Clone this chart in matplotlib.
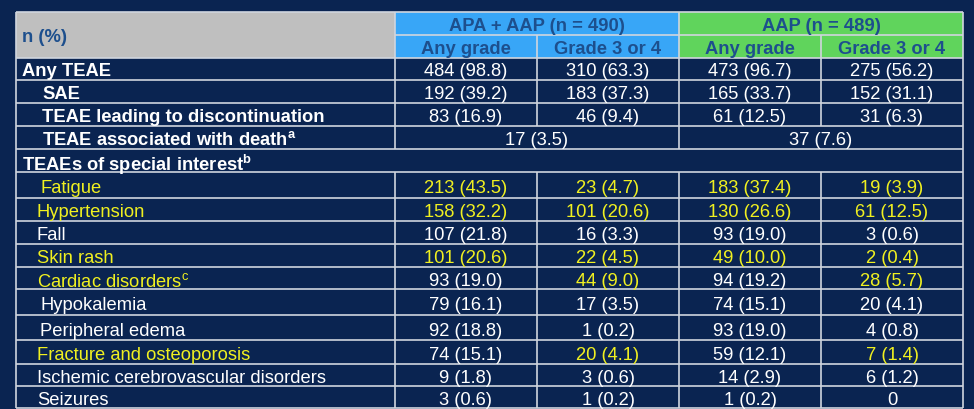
import matplotlib
matplotlib.use("Agg")
import matplotlib.pyplot as plt
from matplotlib.patches import Rectangle

plt.rcParams["mathtext.fontset"] = "custom"
plt.rcParams["mathtext.rm"] = "Liberation Sans"
plt.rcParams["mathtext.bf"] = "Liberation Sans:bold"
plt.rcParams["mathtext.it"] = "Liberation Sans:italic"

# ---- data ----
group_labels = ["APA + AAP (n = 490)", "AAP (n = 489)"]
sub_labels = ["Any grade", "Grade 3 or 4", "Any grade", "Grade 3 or 4"]
corner_label = "n (%)"

top_labels = ["Any TEAE", "SAE", "TEAE leading to discontinuation",
              "TEAE associated with death$^{\\mathbf{a}}$"]
top_indent = [0, 1, 1, 1]
top_values = [
    ["484 (98.8)", "310 (63.3)", "473 (96.7)", "275 (56.2)"],
    ["192 (39.2)", "183 (37.3)", "165 (33.7)", "152 (31.1)"],
    ["83 (16.9)", "46 (9.4)", "61 (12.5)", "31 (6.3)"],
]
death_values = ["17 (3.5)", "37 (7.6)"]

section_label = "TEAEs of special interest$^{\\mathbf{b}}$"

aesi_labels = ["Fatigue", "Hypertension", "Fall", "Skin rash",
               "Cardiac disorders$^{\\mathrm{c}}$", "Hypokalemia", "Peripheral edema",
               "Fracture and osteoporosis", "Ischemic cerebrovascular disorders",
               "Seizures"]
aesi_apa_any = ["213 (43.5)", "158 (32.2)", "107 (21.8)", "101 (20.6)", "93 (19.0)",
                "79 (16.1)", "92 (18.8)", "74 (15.1)", "9 (1.8)", "3 (0.6)"]
aesi_apa_g34 = ["23 (4.7)", "101 (20.6)", "16 (3.3)", "22 (4.5)", "44 (9.0)",
                "17 (3.5)", "1 (0.2)", "20 (4.1)", "3 (0.6)", "1 (0.2)"]
aesi_aap_any = ["183 (37.4)", "130 (26.6)", "93 (19.0)", "49 (10.0)", "94 (19.2)",
                "74 (15.1)", "93 (19.0)", "59 (12.1)", "14 (2.9)", "1 (0.2)"]
aesi_aap_g34 = ["19 (3.9)", "61 (12.5)", "3 (0.6)", "2 (0.4)", "28 (5.7)",
                "20 (4.1)", "4 (0.8)", "7 (1.4)", "6 (1.2)", "0"]
# highlight flags: label, apa_any, apa_g34, aap_any, aap_g34
aesi_highlight = [
    [1, 1, 1, 1, 1],
    [1, 1, 1, 1, 1],
    [0, 0, 0, 0, 0],
    [1, 1, 1, 1, 1],
    [1, 0, 1, 0, 1],
    [0, 0, 0, 0, 0],
    [0, 0, 0, 0, 0],
    [1, 0, 1, 0, 1],
    [0, 0, 0, 0, 0],
    [0, 0, 0, 0, 0],
]
aesi_indent = [3, 0, 0, 0, 0, 3, 3, 0, 0, 0]

# ---- style ----
BG = "#0a2451"
GRAY = "#bfbfbf"
BLUE = "#38a6f7"
GREEN = "#60d45c"
HDR_TXT = "#1d4f8d"
WHITE = "#ffffff"
YELLOW = "#f0f020"
LINE = "#d0d5de"
FONT = "Liberation Sans"
FS = 13.2

W, H = 974, 410
fig = plt.figure(figsize=(W / 100, H / 100), dpi=100)
fig.patch.set_facecolor(BG)
ax = fig.add_axes([0, 0, 1, 1])
ax.set_xlim(0, W)
ax.set_ylim(H, 0)
ax.axis("off")
ax.set_facecolor(BG)

xe = [16, 394.5, 537, 679, 821, 963]
ye = [13, 35.5, 59, 81, 104, 127, 150, 173, 198.5, 221.5, 244.5, 267.5, 290,
      315.5, 341, 365, 387, 408.5]

def rect(x0, y0, x1, y1, color):
    ax.add_patch(Rectangle((x0, y0), x1 - x0, y1 - y0, facecolor=color,
                           edgecolor="none", zorder=1))

def hline(y, x0, x1):
    ax.plot([x0, x1], [y, y], color=LINE, lw=1.2, zorder=3, solid_capstyle="butt")

def vline(x, y0, y1):
    ax.plot([x, x], [y0, y1], color=LINE, lw=1.2, zorder=3, solid_capstyle="butt")

def txt(x, y, s, color=WHITE, bold=False, ha="center"):
    ax.text(x, y, s, color=color, fontsize=FS, family=FONT,
            fontweight="bold" if bold else "normal", ha=ha, va="center_baseline",
            zorder=4)

# header fills
rect(xe[0], ye[0], xe[1], ye[2], GRAY)
rect(xe[1], ye[0], xe[3], ye[2], BLUE)
rect(xe[3], ye[0], xe[5], ye[2], GREEN)

txt(22, (ye[0] + ye[2]) / 2, corner_label, HDR_TXT, True, "left")
txt((xe[1] + xe[3]) / 2, (ye[0] + ye[1]) / 2, group_labels[0], HDR_TXT, True)
txt((xe[3] + xe[5]) / 2, (ye[0] + ye[1]) / 2, group_labels[1], HDR_TXT, True)
for i, s in enumerate(sub_labels):
    txt((xe[i + 1] + xe[i + 2]) / 2, (ye[1] + ye[2]) / 2, s, HDR_TXT, True)

# top block
for r, lab in enumerate(top_labels):
    yc = (ye[r + 2] + ye[r + 3]) / 2
    txt(22 + top_indent[r] * 20.5, yc, lab, WHITE, True, "left")
    if r < len(top_values):
        for c, v in enumerate(top_values[r]):
            txt((xe[c + 1] + xe[c + 2]) / 2, yc, v)
    else:
        txt((xe[1] + xe[3]) / 2, yc, death_values[0])
        txt((xe[3] + xe[5]) / 2, yc, death_values[1])

# section row
yc = (ye[6] + ye[7]) / 2
txt(22, yc, section_label, WHITE, True, "left")

# AESI rows
cols = [aesi_apa_any, aesi_apa_g34, aesi_aap_any, aesi_aap_g34]
for r, lab in enumerate(aesi_labels):
    yc = (ye[r + 7] + ye[r + 8]) / 2 + 1
    hl = aesi_highlight[r]
    txt(37 + aesi_indent[r], yc, lab, YELLOW if hl[0] else WHITE, False, "left")
    for c in range(4):
        txt((xe[c + 1] + xe[c + 2]) / 2, yc, cols[c][r],
            YELLOW if hl[c + 1] else WHITE)

# grid lines
for i, y in enumerate(ye):
    if i == 1:
        hline(y, xe[1], xe[5])
    else:
        hline(y, xe[0], xe[5])
vline(xe[0], ye[0], ye[-1])
vline(xe[5], ye[0], ye[-1])
vline(xe[1], ye[0], ye[6])
vline(xe[1], ye[7], ye[-1])
vline(xe[3], ye[0], ye[6])
vline(xe[3], ye[7], ye[-1])
vline(xe[2], ye[1], ye[5])
vline(xe[2], ye[7], ye[-1])
vline(xe[4], ye[1], ye[5])
vline(xe[4], ye[7], ye[-1])

fig.savefig("out.png", dpi=100, facecolor=BG)
